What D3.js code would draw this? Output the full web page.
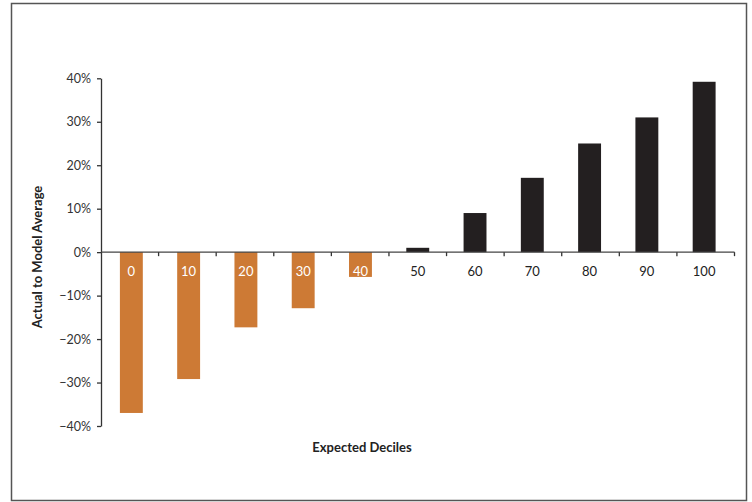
<!DOCTYPE html>
<html>
<head>
<meta charset="utf-8">
<script src="https://d3js.org/d3.v7.min.js"></script>
<style>
  html, body { margin: 0; padding: 0; background: #fff; }
  svg { display: block; font-family: "Lato", "Open Sans", sans-serif; }
</style>
</head>
<body>
<script>
const categories = ["0", "10", "20", "30", "40", "50", "60", "70", "80", "90", "100"];
const values = [-0.370, -0.292, -0.173, -0.129, -0.057, 0.010, 0.090, 0.171, 0.250, 0.310, 0.392];
const yTicks = [-0.4, -0.3, -0.2, -0.1, 0, 0.1, 0.2, 0.3, 0.4];

const W = 752, H = 502;
const svg = d3.select("body").append("svg").attr("width", W).attr("height", H);

// outer frame
svg.append("rect").attr("x", 11.5).attr("y", 3.5).attr("width", 735).attr("height", 497)
  .attr("fill", "none").attr("stroke", "#555").attr("stroke-width", 1.5);

const x0 = 101, x1 = 734.5;
const x = d3.scaleBand().domain(categories).range([x0, x1]).paddingInner(0.6).paddingOuter(0.33);
const y = d3.scaleLinear().domain([-0.4, 0.4]).range([426, 78.3]);

const orange = "#CD7A35", dark = "#231F20";

// bars
svg.append("g").selectAll("rect").data(values).join("rect")
  .attr("x", (d, i) => x(categories[i]))
  .attr("width", x.bandwidth())
  .attr("y", d => y(Math.max(0, d)))
  .attr("height", d => Math.abs(y(d) - y(0)))
  .attr("fill", d => d < 0 ? orange : dark);

// y axis
const fmt = d => (d < 0 ? "\u2212" : "") + Math.round(Math.abs(d) * 100) + "%";
const yAxis = d3.axisLeft(y).tickValues(yTicks).tickFormat(fmt).tickSize(4).tickSizeOuter(0).tickPadding(6);
const gy = svg.append("g").attr("transform", `translate(${x0},0)`).call(yAxis);
gy.select(".domain").attr("stroke", "#333").attr("stroke-width", 1.3);
gy.selectAll(".tick line").attr("stroke", "#333").attr("stroke-width", 1.3);
gy.selectAll(".tick text").attr("font-size", 12.5).attr("fill", "#333").attr("font-family", "Lato, 'Open Sans', sans-serif");

// x axis line at zero
const step = (x1 - x0) / categories.length;
svg.append("line").attr("x1", x0).attr("x2", x1).attr("y1", y(0)).attr("y2", y(0))
  .attr("stroke", "#444").attr("stroke-width", 1.3);
svg.append("g").selectAll("line").data(d3.range(1, categories.length + 1)).join("line")
  .attr("x1", i => x0 + i * step).attr("x2", i => x0 + i * step)
  .attr("y1", y(0)).attr("y2", y(0) + 4)
  .attr("stroke", "#333").attr("stroke-width", 1.3);

// category labels
svg.append("g").selectAll("text").data(categories).join("text")
  .attr("x", d => x(d) + x.bandwidth() / 2)
  .attr("y", y(0) + 24)
  .attr("text-anchor", "middle")
  .attr("font-size", 13)
  .attr("fill", (d, i) => values[i] < 0 ? "#fff" : "#222")
  .text(d => d);

// axis titles
svg.append("text").attr("x", 362).attr("y", 452).attr("text-anchor", "middle")
  .attr("font-size", 13).attr("font-weight", "bold").attr("fill", "#222").text("Expected Deciles");
svg.append("text").attr("transform", "translate(42,257) rotate(-90)").attr("text-anchor", "middle")
  .attr("font-size", 13).attr("font-weight", "bold").attr("fill", "#222").text("Actual to Model Average");
</script>
</body>
</html>
